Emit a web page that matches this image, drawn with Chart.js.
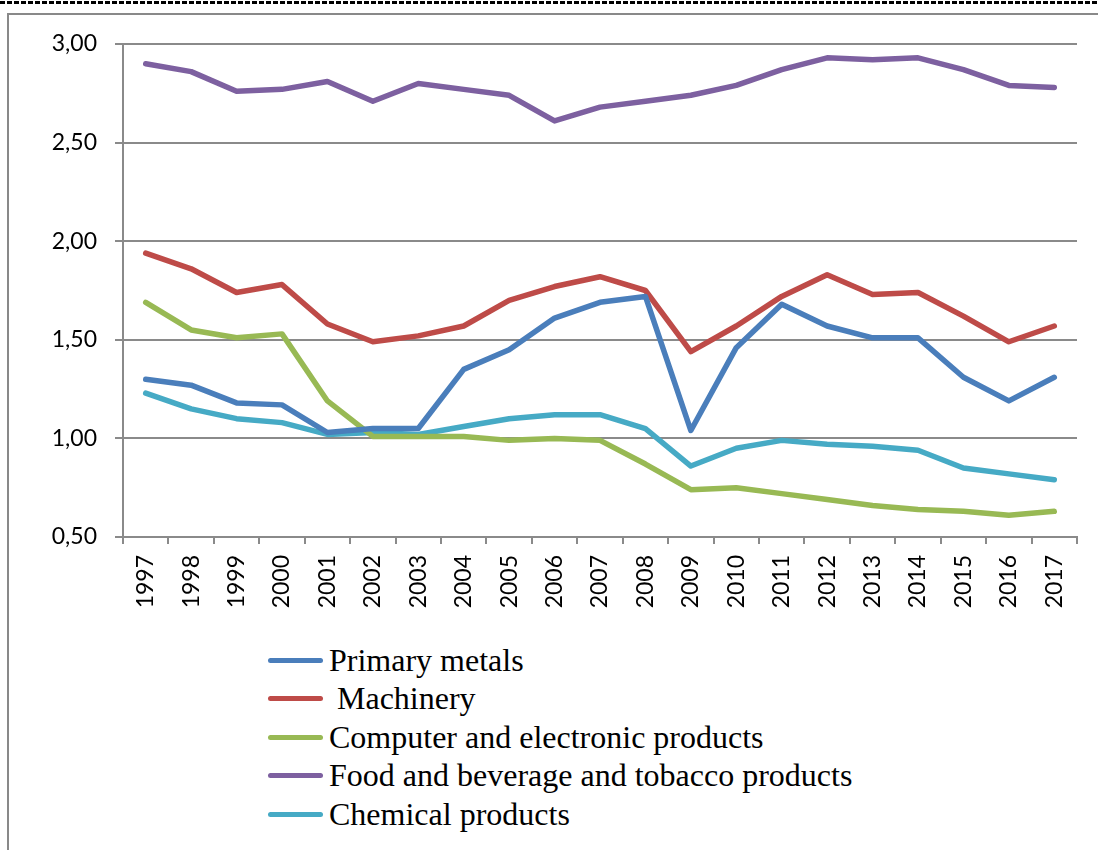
<!DOCTYPE html>
<html>
<head>
<meta charset="utf-8">
<script src="https://cdn.jsdelivr.net/npm/chart.js@4/dist/chart.umd.min.js"></script>
<style>
    html, body { margin: 0; padding: 0; background: #fff; }
    #page { position: relative; width: 1098px; height: 850px; overflow: hidden; }
    #dash {
        position: absolute; left: 0; top: 1px; width: 1098px; height: 3px;
        background: repeating-linear-gradient(to right, #000 0 5px, transparent 5px 7px);
    }
    #frame {
        position: absolute; left: 7px; top: 13px; width: 1200px; height: 900px;
        border-left: 2px solid #898989; border-top: 2px solid #898989;
    }
    #chart { position: absolute; left: 0; top: 0; }
    #legend {
        position: absolute; left: 268px; top: 641px;
        font-family: "Liberation Serif", "Times New Roman", serif; font-size: 32px; color: #000;
    }
    .row { display: flex; align-items: center; height: 38.5px; white-space: pre; }
    .swatch { width: 55px; height: 5px; border-radius: 3px; margin-right: 6px; }
</style>
</head>
<body>
<div id="page">
    <div id="dash"></div>
    <div id="frame"></div>
    <canvas id="chart" width="1098" height="630"></canvas>
    <div id="legend"></div>
</div>
<script>
// data
const years = ['1997', '1998', '1999', '2000', '2001', '2002', '2003', '2004', '2005', '2006', '2007',
    '2008', '2009', '2010', '2011', '2012', '2013', '2014', '2015', '2016', '2017'];

const primaryMetals = [1.30, 1.27, 1.18, 1.17, 1.03, 1.05, 1.05, 1.35, 1.45, 1.61, 1.69,
    1.72, 1.04, 1.46, 1.68, 1.57, 1.51, 1.51, 1.31, 1.19, 1.31];
const machinery = [1.94, 1.86, 1.74, 1.78, 1.58, 1.49, 1.52, 1.57, 1.70, 1.77, 1.82,
    1.75, 1.44, 1.57, 1.72, 1.83, 1.73, 1.74, 1.62, 1.49, 1.57];
const computer = [1.69, 1.55, 1.51, 1.53, 1.19, 1.01, 1.01, 1.01, 0.99, 1.00, 0.99,
    0.87, 0.74, 0.75, 0.72, 0.69, 0.66, 0.64, 0.63, 0.61, 0.63];
const food = [2.90, 2.86, 2.76, 2.77, 2.81, 2.71, 2.80, 2.77, 2.74, 2.61, 2.68,
    2.71, 2.74, 2.79, 2.87, 2.93, 2.92, 2.93, 2.87, 2.79, 2.78];
const chemical = [1.23, 1.15, 1.10, 1.08, 1.02, 1.03, 1.02, 1.06, 1.10, 1.12, 1.12,
    1.05, 0.86, 0.95, 0.99, 0.97, 0.96, 0.94, 0.85, 0.82, 0.79];

const yTicks = [0.5, 1.0, 1.5, 2.0, 2.5, 3.0];

const gridColor = '#8a8a8a';
const tickFont = { family: 'Lato, "Open Sans", sans-serif', size: 23 };

function series(label, data, color) {
    return {
        label,
        data,
        borderColor: color,
        backgroundColor: color,
        borderWidth: 5.5,
        pointRadius: 0,
        tension: 0,
        borderJoinStyle: 'round',
        borderCapStyle: 'round',
        fill: false
    };
}

const chart = new Chart(document.getElementById('chart').getContext('2d'), {
    type: 'line',
    data: {
        labels: years,
        datasets: [
            series('Primary metals', primaryMetals, '#4a7ebb'),
            series(' Machinery', machinery, '#be4b48'),
            series('Computer and electronic products', computer, '#98b954'),
            series('Food and beverage and tobacco products', food, '#7d60a0'),
            series('Chemical products', chemical, '#46aac5')
        ]
    },
    options: {
        responsive: false,
        animation: false,
        layout: { padding: { left: 23, right: 21, top: 44, bottom: 13 } },
        plugins: { legend: { display: false }, tooltip: { enabled: false } },
        scales: {
            x: {
                offset: true,
                afterFit: (s) => { s.height = 80; },
                grid: {
                    offset: true, drawOnChartArea: false, drawTicks: true,
                    tickLength: 7, color: gridColor, lineWidth: 2
                },
                border: { color: gridColor, width: 2 },
                ticks: {
                    color: '#000', font: tickFont, minRotation: 90, maxRotation: 90,
                    padding: 11, autoSkip: false
                }
            },
            y: {
                min: 0.5,
                max: 3.0,
                afterFit: (s) => { s.width = 100; },
                afterBuildTicks: (s) => { s.ticks = yTicks.map(v => ({ value: v })); },
                grid: { color: gridColor, lineWidth: 2, tickLength: 8 },
                border: { color: gridColor, width: 2 },
                ticks: {
                    color: '#000', font: tickFont, padding: 18,
                    callback: (v) => Number(v).toFixed(2).replace('.', ',')
                }
            }
        }
    }
});

// legend: one row per series, built from the chart datasets
const legend = document.getElementById('legend');
chart.data.datasets.forEach(ds => {
    const row = document.createElement('div');
    row.className = 'row';
    const sw = document.createElement('span');
    sw.className = 'swatch';
    sw.style.background = ds.borderColor;
    const txt = document.createElement('span');
    txt.textContent = ds.label;
    row.append(sw, txt);
    legend.append(row);
});
</script>
</body>
</html>
